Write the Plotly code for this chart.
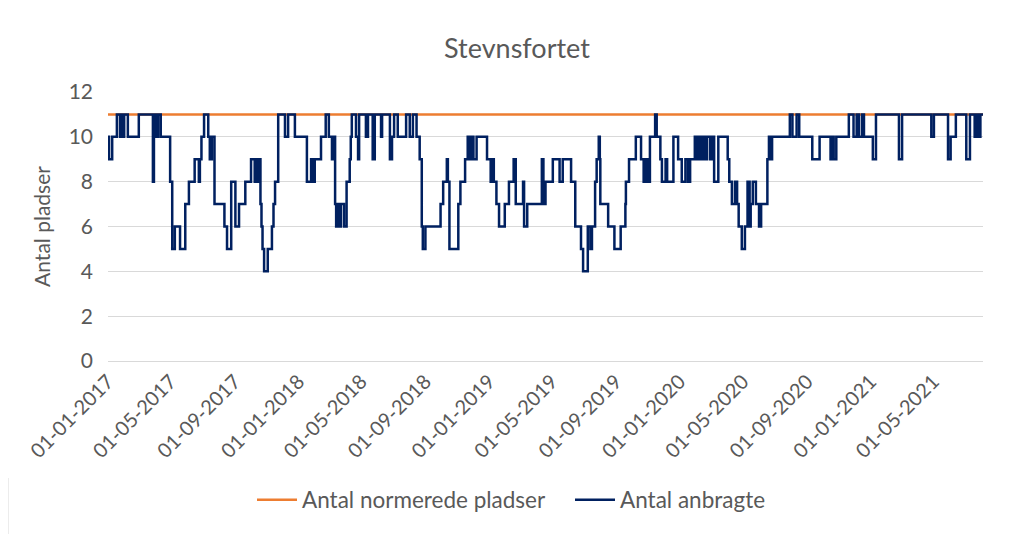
import datetime as dt
import plotly.graph_objects as go

# Data: change points of the step series, as days since 01-01-2017, and the value from that day on
start_date = dt.date(2017, 1, 1)
end_day = 1676
change_days = [
    0, 2, 8, 17, 23, 25, 29, 31, 38, 59, 86, 88, 90, 94, 96, 101, 119, 123, 128, 138,
    148, 155, 166, 174, 176, 179, 184, 192, 195, 199, 204, 223, 228, 236, 244, 251, 263, 274, 281,
    283, 287, 290, 292, 294, 296, 299, 306, 314, 317, 320, 326, 339, 345, 358, 381, 389, 393, 396, 408, 417,
    423, 429, 432, 435, 437, 441, 442, 446, 452, 457, 463, 465, 467, 475, 479, 481, 494, 498, 507, 511,
    523, 525, 540, 544, 548, 555,
    571, 578, 584, 591, 597, 601, 603, 608, 637, 642, 649, 651, 654, 671, 675, 684, 689, 693, 696, 700,
    706, 726, 733, 736, 739, 744, 749, 760, 768, 777, 781, 795, 797, 803, 831, 834, 838,
    852, 865, 871, 887, 895, 906, 910, 919, 924, 927, 933, 936, 940, 942, 943, 958, 970, 982, 991,
    992, 998, 1011, 1021, 1026, 1030, 1034, 1038, 1048, 1051, 1058, 1061, 1068, 1071, 1083, 1092, 1099, 1106, 1111, 1115, 1124,
    1128, 1132, 1136, 1139, 1143, 1147, 1153, 1157, 1161, 1169, 1187, 1190, 1195, 1201, 1205, 1208, 1214, 1220, 1225, 1229, 1231,
    1235, 1241, 1247, 1251, 1263, 1266,
    1268, 1272, 1306, 1311, 1319, 1324, 1349, 1363, 1384, 1388, 1390, 1395,
    1419, 1428, 1434, 1438, 1444, 1448, 1465, 1471, 1515, 1521,
    1577, 1582, 1609, 1614, 1624, 1644, 1651, 1660, 1664, 1667, 1671,
]
anbragte = [
    10, 9, 10, 11, 10, 11, 10, 11, 10, 11, 8, 10, 11, 10, 11, 10, 8, 5, 6, 5,
    7, 8, 9, 8, 9, 10, 11, 10, 9, 10, 7, 6, 5, 8, 6, 7, 8, 9, 8,
    9, 8, 9, 7, 6, 5, 4, 5, 6, 7, 8, 11, 10, 11, 10, 8, 9, 8, 9, 10, 11,
    10, 9, 10, 7, 6, 7, 6, 7, 6, 8, 9, 10, 11, 10, 9, 11, 10, 11, 9, 11,
    10, 11, 9, 10, 11, 10,
    11, 10, 11, 10, 9, 6, 5, 6, 7, 8, 9, 8, 5, 7, 8, 9, 10, 9, 10, 9,
    10, 9, 8, 9, 8, 7, 6, 7, 8, 9, 7, 8, 6, 7, 9, 7, 8,
    9, 8, 9, 8, 6, 5, 4, 6, 5, 6, 8, 9, 10, 9, 7, 6, 5, 6, 7,
    8, 9, 10, 9, 8, 9, 8, 10, 11, 10, 9, 8, 9, 8, 10, 9, 8, 9, 8, 9, 10,
    9, 10, 9, 10, 9, 10, 9, 10, 8, 10, 9, 8, 7, 8, 7, 6, 5, 6, 8, 6, 7,
    8, 7, 6, 7, 9, 10,
    9, 10, 11, 10, 11, 10, 9, 10, 9, 10, 9, 10,
    11, 10, 11, 10, 11, 10, 9, 11, 9, 11,
    10, 11, 9, 10, 11, 9, 11, 10, 11, 10, 11,
]
normerede = 11
series_names = ["Antal normerede pladser", "Antal anbragte"]
title_text = "Stevnsfortet"
y_title = "Antal pladser"

dates = [start_date + dt.timedelta(days=d) for d in change_days]
end_date = start_date + dt.timedelta(days=end_day)
x_anb = dates + [end_date]
y_anb = anbragte + [anbragte[-1]]

font_family = "Lato, 'Open Sans', sans-serif"
grey = "#595959"

fig = go.Figure()
fig.add_trace(go.Scatter(
    x=[start_date, end_date], y=[normerede, normerede], mode="lines",
    name=series_names[0], line=dict(color="#ED7D31", width=2.5),
))
fig.add_trace(go.Scatter(
    x=x_anb, y=y_anb, mode="lines", line_shape="hv",
    name=series_names[1], line=dict(color="#002060", width=2.5),
))

fig.update_layout(
    width=1016, height=534,
    margin=dict(l=100, r=41, t=84, b=181, autoexpand=False),
    paper_bgcolor="white", plot_bgcolor="white",
    font=dict(family=font_family, color=grey, size=20),
    title=dict(text=title_text, x=0.501, xanchor="center", y=0.925, yanchor="middle",
               font=dict(size=27, color=grey, family=font_family)),
    legend=dict(orientation="h", x=0.528, xanchor="center", y=-0.517, yanchor="middle",
                font=dict(size=22.5, color=grey), itemwidth=40, traceorder="normal",
                entrywidth=263, entrywidthmode="pixels"),
    showlegend=True,
    shapes=[dict(type="line", xref="paper", yref="paper", x0=-0.1143, x1=-0.1143,
                 y0=-0.435, y1=-0.68, line=dict(color="#d9d9d9", width=1))],
)
fig.update_xaxes(
    type="date", range=[start_date, end_date], automargin=False,
    tick0="2017-01-01", dtick="M4", tickformat="%d-%m-%Y", tickangle=-45,
    showgrid=False, showline=True, linecolor="#d9d9d9", linewidth=1,
    ticks="", tickfont=dict(size=20, color=grey), zeroline=False,
)
fig.update_yaxes(
    range=[0, 12], dtick=2, showgrid=True, gridcolor="#d9d9d9", gridwidth=1, automargin=False,
    zeroline=False, showline=False, ticks="", tickfont=dict(size=21, color=grey),
    ticklabelstandoff=14,
    title=dict(text=y_title, font=dict(size=21, color=grey), standoff=12),
)

fig.write_html("out.html")
